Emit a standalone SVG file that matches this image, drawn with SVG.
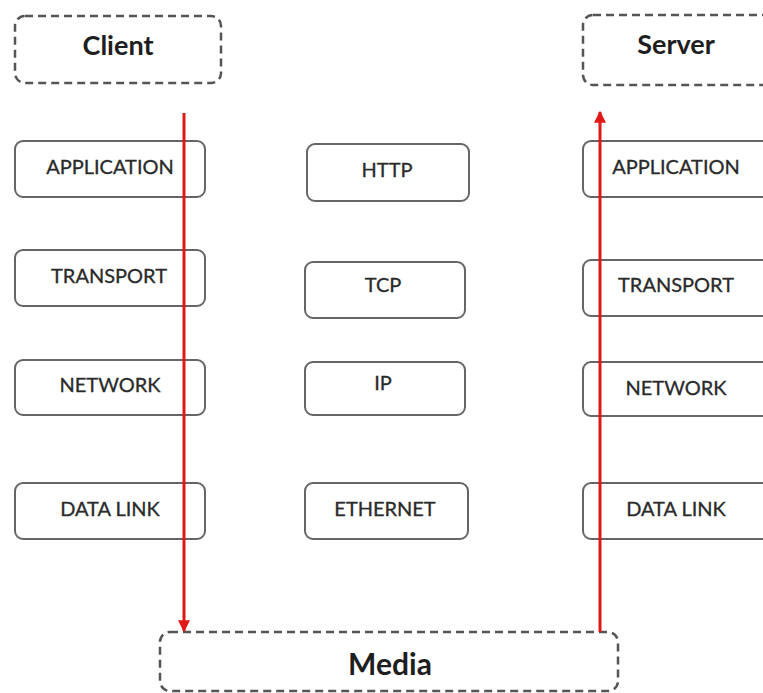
<svg xmlns="http://www.w3.org/2000/svg" width="763" height="693" viewBox="0 0 763 693">
<style>
.dash{fill:#fff;stroke:#555;stroke-width:2.5;stroke-dasharray:8,5}
.box{fill:#fff;stroke:#666;stroke-width:2}
.hd{font-family:Lato,"Open Sans","Liberation Sans",sans-serif;font-weight:bold;fill:#1e1e1e;text-anchor:middle}
.lb{font-family:Lato,"Open Sans","Liberation Sans",sans-serif;font-size:20px;fill:#2a2a2a;text-anchor:middle;stroke:#2a2a2a;stroke-width:0.3}
.arr{stroke:#e01818;stroke-width:3;fill:none}
</style>
<defs>
<marker id="ah" viewBox="0 0 10 10" refX="9" refY="5" markerWidth="4" markerHeight="4" orient="auto" markerUnits="strokeWidth">
<path d="M0,0 L10,5 L0,10 z" fill="#e01818"/>
</marker>
</defs>
<rect width="763" height="693" fill="#fff"/>
<g id="client"><rect class="dash" x="15" y="16" width="206" height="67" rx="10"/><text class="hd" x="118" y="55" font-size="27">Client</text></g>
<g id="server"><rect class="dash" x="583" y="15" width="190" height="70" rx="10"/><text class="hd" x="676" y="54" font-size="27">Server</text></g>
<g id="media"><rect class="dash" x="160" y="632" width="458" height="59" rx="10"/><text class="hd" x="390" y="675" font-size="30">Media</text></g>

<g id="c-app"><rect class="box" x="15" y="141" width="190" height="56" rx="8"/><text class="lb" x="110" y="174">APPLICATION</text></g>
<g id="c-trans"><rect class="box" x="15" y="250" width="190" height="56" rx="8"/><text class="lb" x="109" y="283">TRANSPORT</text></g>
<g id="c-net"><rect class="box" x="15" y="360" width="190" height="55" rx="8"/><text class="lb" x="110" y="392">NETWORK</text></g>
<g id="c-dl"><rect class="box" x="15" y="483" width="190" height="56" rx="8"/><text class="lb" x="110" y="516">DATA LINK</text></g>

<g id="http"><rect class="box" x="307" y="144" width="162" height="57" rx="8"/><text class="lb" x="387" y="177">HTTP</text></g>
<g id="tcp"><rect class="box" x="305" y="262" width="160" height="56" rx="8"/><text class="lb" x="383" y="292">TCP</text></g>
<g id="ip"><rect class="box" x="305" y="362" width="160" height="53" rx="8"/><text class="lb" x="383" y="390">IP</text></g>
<g id="eth"><rect class="box" x="305" y="483" width="163" height="56" rx="8"/><text class="lb" x="385" y="516">ETHERNET</text></g>

<g id="s-app"><rect class="box" x="583" y="141" width="190" height="56" rx="8"/><text class="lb" x="676" y="174">APPLICATION</text></g>
<g id="s-trans"><rect class="box" x="583" y="260" width="190" height="56" rx="8"/><text class="lb" x="676" y="292">TRANSPORT</text></g>
<g id="s-net"><rect class="box" x="583" y="362" width="190" height="54" rx="8"/><text class="lb" x="676" y="395">NETWORK</text></g>
<g id="s-dl"><rect class="box" x="583" y="483" width="190" height="56" rx="8"/><text class="lb" x="676" y="516">DATA LINK</text></g>

<g id="connectors">
<line class="arr" x1="184" y1="113" x2="184" y2="631" marker-end="url(#ah)"/>
<line class="arr" x1="600" y1="632" x2="600" y2="112" marker-end="url(#ah)"/>
</g>
</svg>
